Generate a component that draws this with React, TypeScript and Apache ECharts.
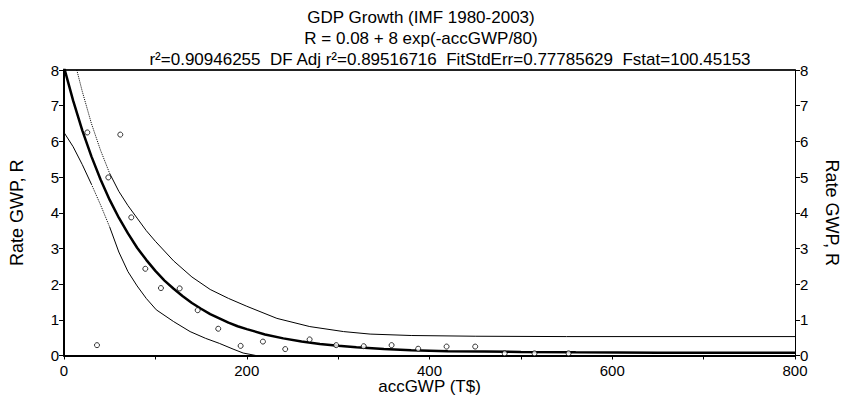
import React, { useEffect, useRef } from "react";
import * as echarts from "echarts";

// ---- texts ----
const titleLines = [
  "GDP Growth (IMF 1980-2003)",
  "R = 0.08 + 8 exp(-accGWP/80)",
  "r²=0.90946255  DF Adj r²=0.89516716  FitStdErr=0.77785629  Fstat=100.45153",
];
const xAxisName = "accGWP (T$)";
const yAxisName = "Rate GWP, R";

// ---- observed points ----
const obsX = [25.5, 61.6, 48.5, 36.1, 73.6, 89.0, 106.1, 126.6, 146.3, 168.8, 193.3, 217.7, 242.1, 268.8, 297.9, 328.0, 358.5, 387.6, 418.7, 450.0, 482.3, 514.9, 552.2];
const obsY = [6.25, 6.19, 4.99, 0.29, 3.87, 2.43, 1.89, 1.88, 1.27, 0.75, 0.27, 0.39, 0.18, 0.45, 0.29, 0.26, 0.29, 0.19, 0.25, 0.25, 0.06, 0.06, 0.06];

// ---- fitted curve ----
const fitX = [0, 10, 20, 30, 40, 50, 60, 70, 80, 90, 100, 110, 120, 130, 140, 150, 160, 170, 180, 190, 200, 220, 240, 260, 280, 300, 320, 350, 380, 420, 460, 500, 560, 650, 800];
const fitY = [8.08, 7.14, 6.31, 5.58, 4.93, 4.36, 3.86, 3.42, 3.02, 2.68, 2.37, 2.10, 1.87, 1.66, 1.47, 1.31, 1.16, 1.04, 0.92, 0.82, 0.74, 0.59, 0.48, 0.39, 0.32, 0.27, 0.23, 0.18, 0.15, 0.12, 0.11, 0.10, 0.09, 0.08, 0.08];

// ---- upper band ----
const upperX = [14, 20, 30, 40, 50, 60, 70, 80, 90, 100, 120, 140, 160, 180, 200, 233, 269, 306, 335, 380, 450, 550, 800];
const upperY = [8.0, 7.4, 6.5, 5.75, 5.1, 4.6, 4.2, 3.85, 3.5, 3.2, 2.65, 2.2, 1.85, 1.6, 1.38, 1.04, 0.81, 0.67, 0.60, 0.56, 0.54, 0.53, 0.53];

// ---- lower band ----
const lowerX = [0, 10, 20, 30, 40, 50, 60, 70, 80, 90, 101, 120, 138, 155, 170, 185, 196, 210, 230, 800];
const lowerY = [6.25, 5.85, 5.35, 4.8, 4.22, 3.6, 2.9, 2.35, 1.95, 1.6, 1.28, 0.95, 0.67, 0.48, 0.34, 0.18, 0.07, 0.0, 0.0, 0.0];

// index ranges of the dotted parts of the bands
const upperDottedEnd = 4; // 0..4 dotted
const lowerDottedStart = 3;
const lowerDottedEnd = 5;

const FONT = "'Liberation Sans', Arial, Helvetica, sans-serif";

const pairs = (xs: number[], ys: number[], a = 0, b = xs.length - 1) => {
  const out: number[][] = [];
  for (let i = a; i <= b; i++) out.push([xs[i], ys[i]]);
  return out;
};

export default function App() {
  const ref = useRef<HTMLDivElement>(null);
  useEffect(() => {
    document.body.style.margin = "0";
    const chart = echarts.init(ref.current!, null, { renderer: "svg" });
    const thin = (type: string) => ({
      type: "line",
      showSymbol: false,
      symbol: "none",
      silent: true,
      lineStyle: { color: "#000", width: 1, type },
      z: 2,
    });
    const yAxisBase = {
      type: "value",
      min: 0,
      max: 8,
      interval: 1,
      splitLine: { show: false },
      axisTick: { show: true, length: 5, lineStyle: { color: "#000" } },
      axisLabel: { fontSize: 15, color: "#000", fontFamily: FONT, margin: 5 },
      name: yAxisName,
      nameLocation: "middle",
      nameMoveOverlap: false,
      nameTextStyle: { fontSize: 18, color: "#000", fontFamily: FONT },
    };
    chart.setOption({
      animation: false,
      backgroundColor: "#fff",
      grid: {
        left: 64,
        right: 47,
        top: 70,
        bottom: 39.5,
        containLabel: false,
        outerBoundsMode: "none",
      },
      graphic: titleLines.map((t, i) => ({
        type: "text",
        x: i === 2 ? 450 : 421,
        y: 17 + i * 21,
        style: {
          text: t,
          fontSize: 17,
          fontFamily: FONT,
          fill: "#000",
          align: "center",
          verticalAlign: "middle",
        },
      })),
      xAxis: [
        {
          type: "value",
          min: 0,
          max: 800,
          interval: 200,
          position: "bottom",
          splitLine: { show: false },
          axisLine: { onZero: false, lineStyle: { color: "#000", width: 2 } },
          axisTick: { show: true, length: 4, lineStyle: { color: "#000" } },
          minorTick: { show: true, splitNumber: 2, length: 4, lineStyle: { color: "#000" } },
          axisLabel: { fontSize: 15, color: "#000", fontFamily: FONT, margin: 7.5 },
          name: xAxisName,
          nameLocation: "middle",
          nameGap: 22,
          nameMoveOverlap: false,
          nameTextStyle: { fontSize: 17, color: "#000", fontFamily: FONT },
        },
        {
          type: "value",
          min: 0,
          max: 800,
          position: "top",
          splitLine: { show: false },
          axisLine: { onZero: false, lineStyle: { color: "#222", width: 2 } },
          axisTick: { show: false },
          axisLabel: { show: false },
        },
      ],
      yAxis: [
        {
          ...yAxisBase,
          position: "left",
          axisLine: { onZero: false, lineStyle: { color: "#000", width: 2 } },
          nameRotate: 90,
          nameGap: 38,
        },
        {
          ...yAxisBase,
          position: "right",
          axisLine: { onZero: false, lineStyle: { color: "#000", width: 1 } },
          nameRotate: -90,
          nameGap: 28,
        },
      ],
      series: [
        { ...thin("dotted"), data: pairs(upperX, upperY, 0, upperDottedEnd) },
        { ...thin("solid"), data: pairs(upperX, upperY, upperDottedEnd) },
        { ...thin("solid"), data: pairs(lowerX, lowerY, 0, lowerDottedStart) },
        { ...thin("dotted"), data: pairs(lowerX, lowerY, lowerDottedStart, lowerDottedEnd) },
        { ...thin("solid"), data: pairs(lowerX, lowerY, lowerDottedEnd) },
        {
          type: "line",
          showSymbol: false,
          symbol: "none",
          silent: true,
          lineStyle: { color: "#000", width: 2.5 },
          data: pairs(fitX, fitY),
          z: 3,
        },
        {
          type: "scatter",
          symbol: "circle",
          symbolSize: 5,
          itemStyle: { color: "#fff", borderColor: "#000", borderWidth: 1 },
          data: pairs(obsX, obsY),
          z: 4,
        },
      ],
    });
    return () => chart.dispose();
  }, []);
  return <div ref={ref} style={{ width: 842, height: 395 }} />;
}
